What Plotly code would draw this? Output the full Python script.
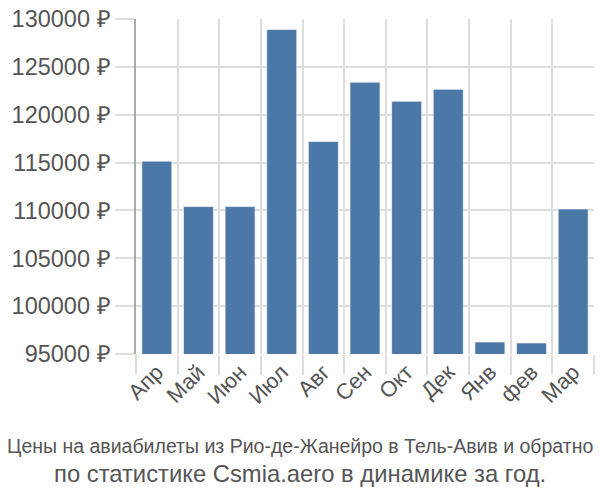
import plotly.graph_objects as go

months = ["Апр", "Май", "Июн", "Июл", "Авг", "Сен", "Окт", "Дек", "Янв", "фев", "Мар"]
prices = [115150, 110400, 110400, 128900, 117200, 123400, 121400, 122650, 96250, 96150, 110150]
y_ticks = [95000, 100000, 105000, 110000, 115000, 120000, 125000, 130000]
title_line1 = "Цены на авиабилеты из Рио-де-Жанейро в Тель-Авив и обратно"
title_line2 = "по статистике Csmia.aero в динамике за год."

fig = go.Figure(go.Bar(
    x=months, y=prices,
    marker=dict(color="#4c78a8", line=dict(color="rgba(255,255,255,0.6)", width=1)),
    width=0.72,
))

fig.update_layout(
    width=600, height=500,
    margin=dict(l=136, r=6, t=14, b=146),
    plot_bgcolor="white", paper_bgcolor="white",
    font=dict(family="Liberation Sans, Arial, sans-serif", color="#555555"),
    showlegend=False,
    xaxis=dict(
        tickson="boundaries", ticks="outside", ticklen=20, tickcolor="#dddddd", tickwidth=1.5,
        showgrid=True, gridcolor="#dddddd", gridwidth=1.5,
        tickangle=-45, tickfont=dict(size=22, color="#555555"),
        showline=False, zeroline=False,
    ),
    yaxis=dict(
        range=[95000, 130000], tickvals=y_ticks,
        ticktext=[f"{v} ₽" for v in y_ticks],
        ticks="outside", ticklen=19, tickcolor="#dddddd", tickwidth=1.5,
        showgrid=True, gridcolor="#dddddd", gridwidth=1.5,
        showline=True, linecolor="#aaaaaa", linewidth=1.5,
        tickfont=dict(size=23.5, color="#555555"), zeroline=False,
    ),
    annotations=[
        dict(text=title_line1, y=447, showarrow=False,
             font=dict(size=19.5, color="#555555")),
        dict(text=title_line2, y=475, showarrow=False,
             font=dict(size=23.8, color="#555555")),
    ],
)
# convert pixel y positions of annotations to paper coordinates
plot_h = 500 - 14 - 146
for ann in fig.layout.annotations:
    py = ann.y
    ann.xref = "paper"
    ann.yref = "paper"
    ann.xanchor = "center"
    ann.x = (300 - 136) / (600 - 136 - 6)
    ann.y = (500 - 146 - py) / plot_h
    ann.yanchor = "middle"

fig.write_html("out.html")
